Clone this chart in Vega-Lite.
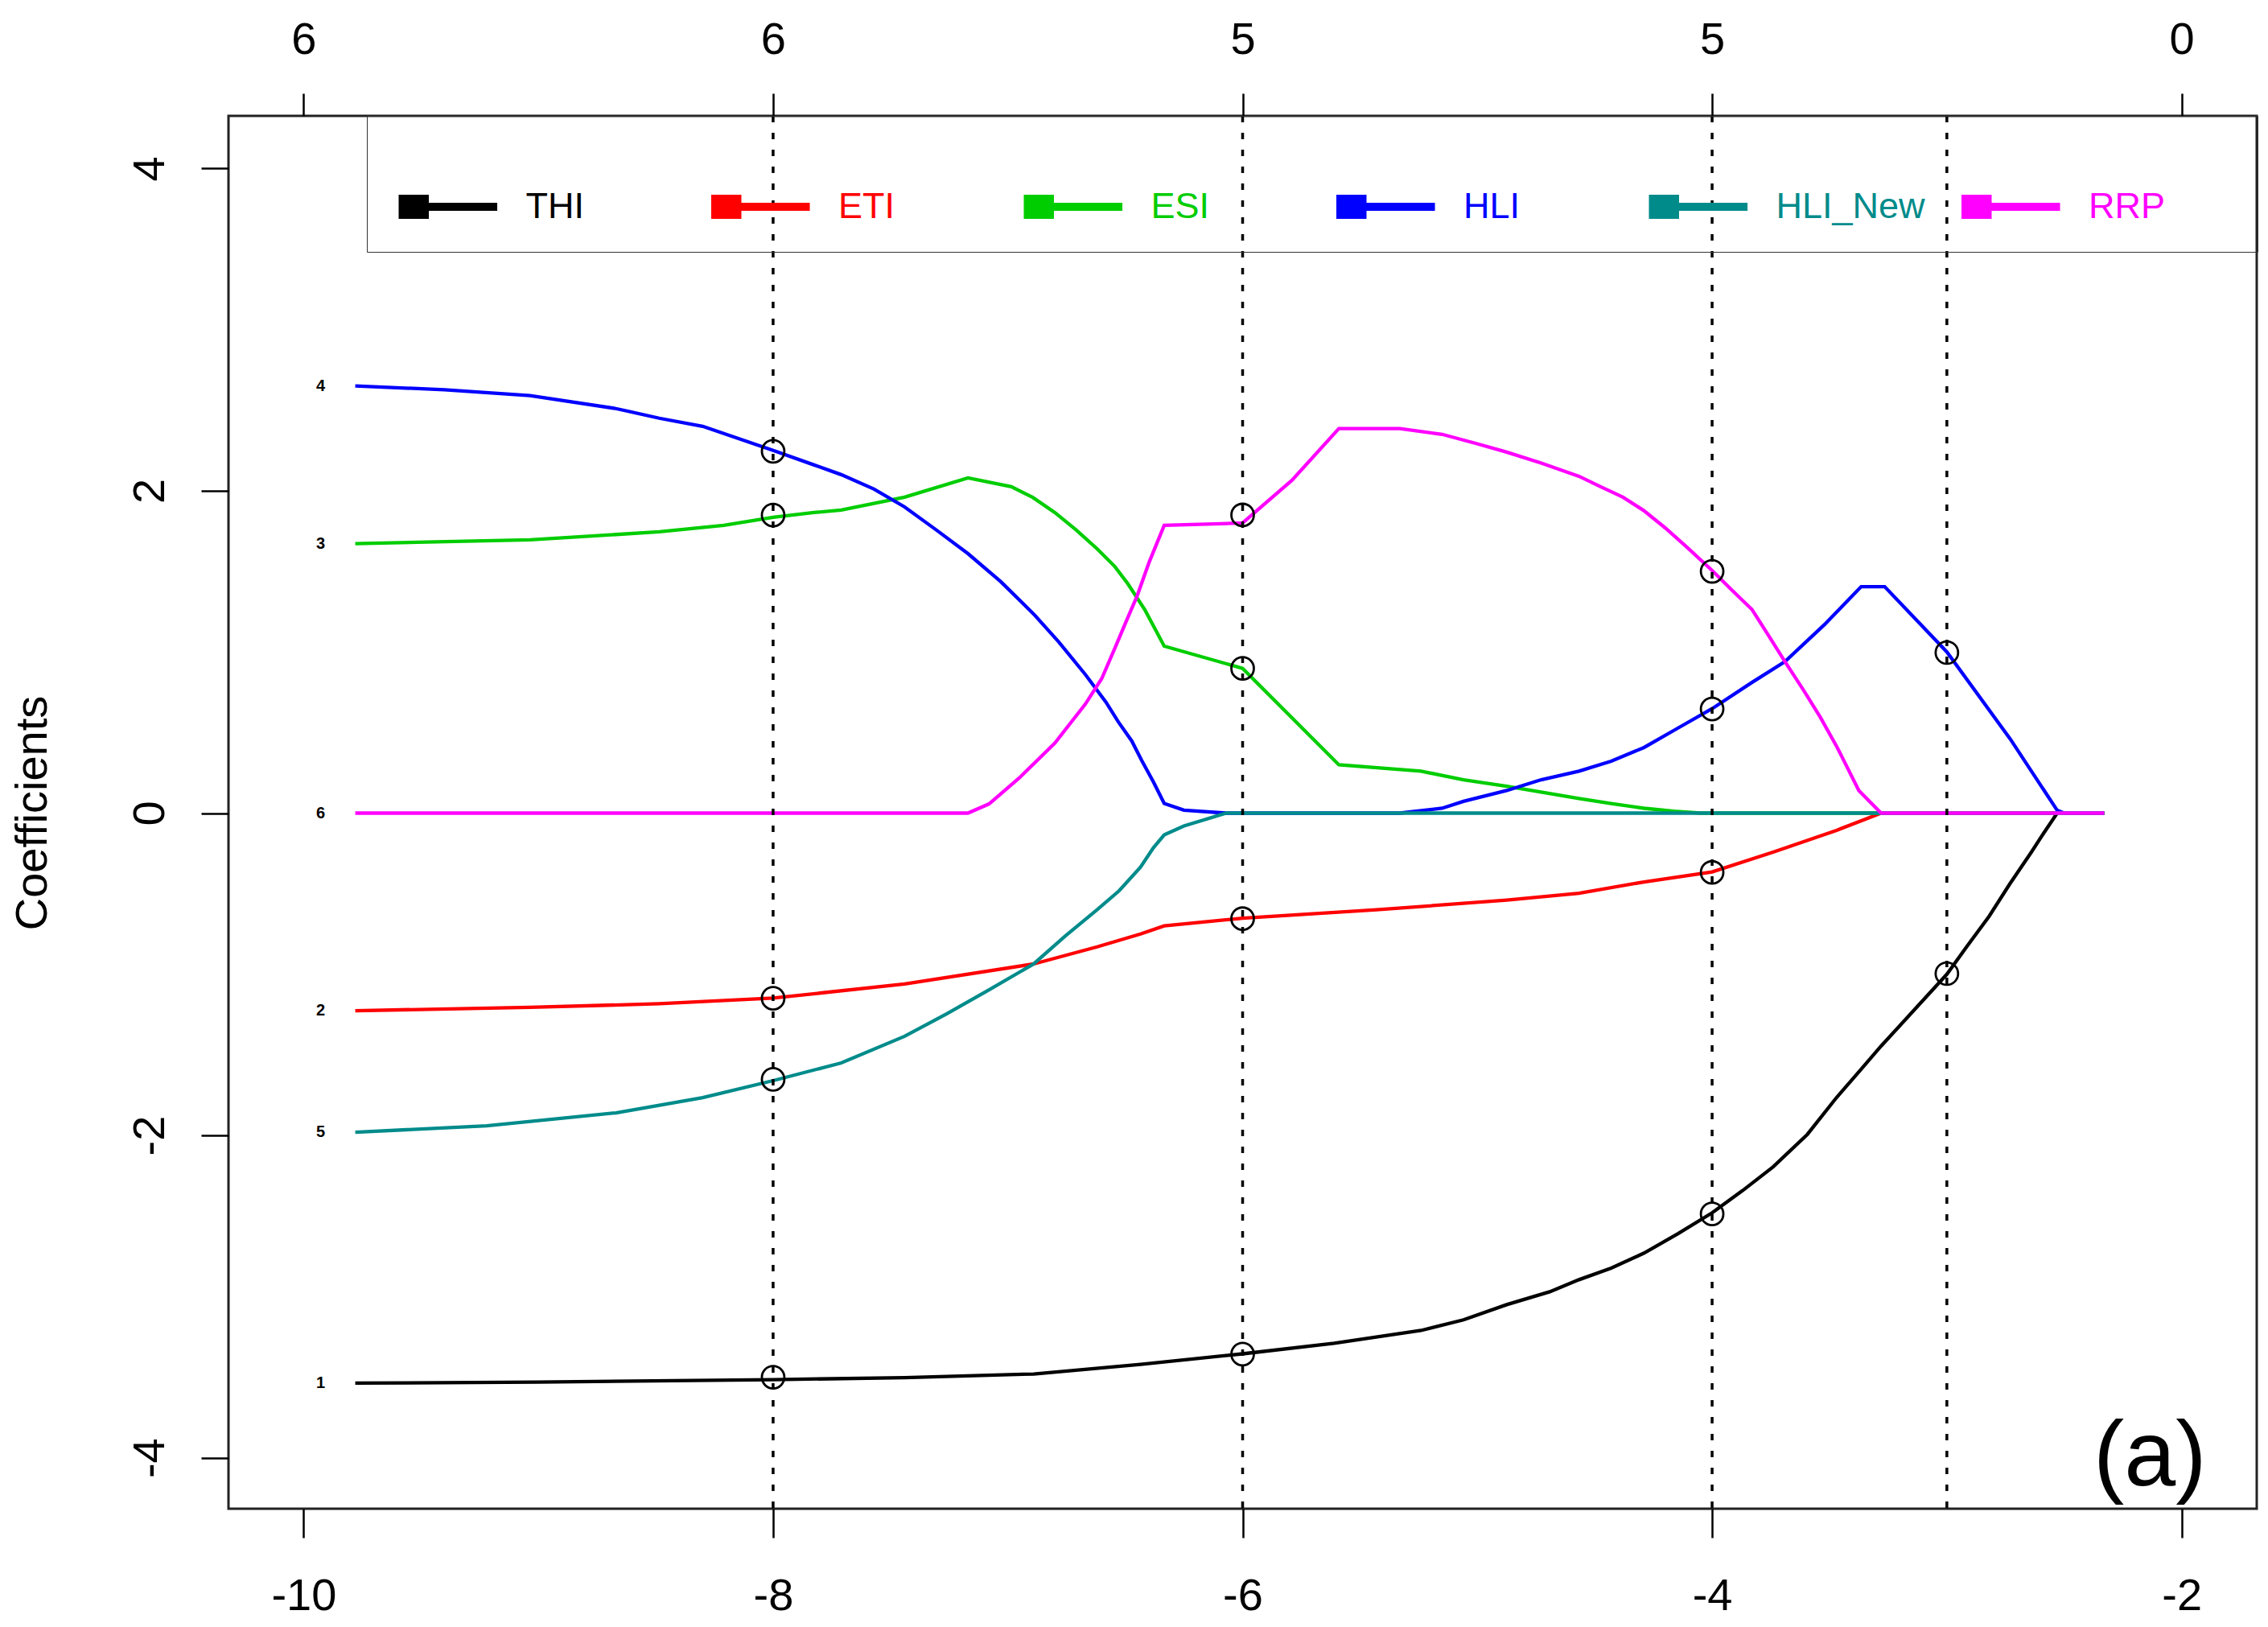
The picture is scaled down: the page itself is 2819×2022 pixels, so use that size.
{
  "$schema": "https://vega.github.io/schema/vega-lite/v6.json",
  "width": 2521,
  "height": 1731,
  "autosize": {"type": "none"},
  "padding": {"left": 284, "top": 144, "right": 14, "bottom": 147},
  "background": "white",
  "config": {
    "font": "Liberation Sans",
    "view": {"stroke": "#222222", "strokeWidth": 3},
    "axis": {"grid": false, "domain": false, "tickColor": "black", "tickWidth": 2.5, "labelColor": "black", "labelFont": "Liberation Sans", "labelFontSize": 56, "titleFont": "Liberation Sans", "titleFontSize": 56, "titleFontWeight": "normal", "titleColor": "black"}
  },
  "datasets": {
    "paths": [
      {"series": "THI", "x": -9.78, "y": -3.537},
      {"series": "THI", "x": -9.0, "y": -3.53},
      {"series": "THI", "x": -8.0, "y": -3.515},
      {"series": "THI", "x": -7.44, "y": -3.503},
      {"series": "THI", "x": -6.89, "y": -3.48},
      {"series": "THI", "x": -6.435, "y": -3.42},
      {"series": "THI", "x": -6.0, "y": -3.355},
      {"series": "THI", "x": -5.61, "y": -3.29},
      {"series": "THI", "x": -5.24, "y": -3.21},
      {"series": "THI", "x": -5.059, "y": -3.144},
      {"series": "THI", "x": -4.875, "y": -3.05},
      {"series": "THI", "x": -4.692, "y": -2.97},
      {"series": "THI", "x": -4.567, "y": -2.895},
      {"series": "THI", "x": -4.43, "y": -2.823},
      {"series": "THI", "x": -4.29, "y": -2.73},
      {"series": "THI", "x": -4.145, "y": -2.609},
      {"series": "THI", "x": -4.0, "y": -2.48},
      {"series": "THI", "x": -3.87, "y": -2.342},
      {"series": "THI", "x": -3.74, "y": -2.195},
      {"series": "THI", "x": -3.594, "y": -1.993},
      {"series": "THI", "x": -3.47, "y": -1.765},
      {"series": "THI", "x": -3.375, "y": -1.606},
      {"series": "THI", "x": -3.28, "y": -1.445},
      {"series": "THI", "x": -3.145, "y": -1.231},
      {"series": "THI", "x": -3.0, "y": -1.0},
      {"series": "THI", "x": -2.916, "y": -0.83},
      {"series": "THI", "x": -2.82, "y": -0.64},
      {"series": "THI", "x": -2.733, "y": -0.442},
      {"series": "THI", "x": -2.64, "y": -0.242},
      {"series": "THI", "x": -2.586, "y": -0.121},
      {"series": "THI", "x": -2.53, "y": 0},
      {"series": "THI", "x": -2.33, "y": 0},
      {"series": "ETI", "x": -9.78, "y": -1.226},
      {"series": "ETI", "x": -9.036, "y": -1.205},
      {"series": "ETI", "x": -8.485, "y": -1.183},
      {"series": "ETI", "x": -8.0, "y": -1.148},
      {"series": "ETI", "x": -7.44, "y": -1.06},
      {"series": "ETI", "x": -6.89, "y": -0.936},
      {"series": "ETI", "x": -6.62, "y": -0.83},
      {"series": "ETI", "x": -6.435, "y": -0.75},
      {"series": "ETI", "x": -6.334, "y": -0.7},
      {"series": "ETI", "x": -6.0, "y": -0.652},
      {"series": "ETI", "x": -5.43, "y": -0.6},
      {"series": "ETI", "x": -4.875, "y": -0.54},
      {"series": "ETI", "x": -4.567, "y": -0.497},
      {"series": "ETI", "x": -4.29, "y": -0.427},
      {"series": "ETI", "x": -4.0, "y": -0.365},
      {"series": "ETI", "x": -3.74, "y": -0.242},
      {"series": "ETI", "x": -3.47, "y": -0.107},
      {"series": "ETI", "x": -3.28, "y": 0},
      {"series": "ETI", "x": -2.33, "y": 0},
      {"series": "ESI", "x": -9.78, "y": 1.672},
      {"series": "ESI", "x": -9.036, "y": 1.696},
      {"series": "ESI", "x": -8.485, "y": 1.745},
      {"series": "ESI", "x": -8.21, "y": 1.785},
      {"series": "ESI", "x": -8.0, "y": 1.835},
      {"series": "ESI", "x": -7.825, "y": 1.865},
      {"series": "ESI", "x": -7.71, "y": 1.88},
      {"series": "ESI", "x": -7.44, "y": 1.96},
      {"series": "ESI", "x": -7.17, "y": 2.08},
      {"series": "ESI", "x": -6.985, "y": 2.025},
      {"series": "ESI", "x": -6.894, "y": 1.959},
      {"series": "ESI", "x": -6.8, "y": 1.865},
      {"series": "ESI", "x": -6.71, "y": 1.758},
      {"series": "ESI", "x": -6.62, "y": 1.64},
      {"series": "ESI", "x": -6.545, "y": 1.531},
      {"series": "ESI", "x": -6.49, "y": 1.425},
      {"series": "ESI", "x": -6.417, "y": 1.263},
      {"series": "ESI", "x": -6.334, "y": 1.036},
      {"series": "ESI", "x": -6.0, "y": 0.898},
      {"series": "ESI", "x": -5.59, "y": 0.3},
      {"series": "ESI", "x": -5.24, "y": 0.26},
      {"series": "ESI", "x": -5.059, "y": 0.207},
      {"series": "ESI", "x": -4.875, "y": 0.167},
      {"series": "ESI", "x": -4.567, "y": 0.09},
      {"series": "ESI", "x": -4.43, "y": 0.059},
      {"series": "ESI", "x": -4.29, "y": 0.03},
      {"series": "ESI", "x": -4.163, "y": 0.012},
      {"series": "ESI", "x": -4.05, "y": 0},
      {"series": "ESI", "x": -2.33, "y": 0},
      {"series": "HLI", "x": -9.78, "y": 2.65},
      {"series": "HLI", "x": -9.4, "y": 2.627},
      {"series": "HLI", "x": -9.036, "y": 2.59},
      {"series": "HLI", "x": -8.67, "y": 2.51},
      {"series": "HLI", "x": -8.485, "y": 2.45},
      {"series": "HLI", "x": -8.3, "y": 2.4},
      {"series": "HLI", "x": -8.0, "y": 2.25},
      {"series": "HLI", "x": -7.825, "y": 2.16},
      {"series": "HLI", "x": -7.71, "y": 2.1},
      {"series": "HLI", "x": -7.57, "y": 2.01},
      {"series": "HLI", "x": -7.44, "y": 1.9},
      {"series": "HLI", "x": -7.306, "y": 1.758},
      {"series": "HLI", "x": -7.17, "y": 1.61},
      {"series": "HLI", "x": -7.031, "y": 1.437},
      {"series": "HLI", "x": -6.89, "y": 1.235},
      {"series": "HLI", "x": -6.783, "y": 1.062},
      {"series": "HLI", "x": -6.67, "y": 0.86},
      {"series": "HLI", "x": -6.582, "y": 0.688},
      {"series": "HLI", "x": -6.53, "y": 0.567},
      {"series": "HLI", "x": -6.472, "y": 0.447},
      {"series": "HLI", "x": -6.43, "y": 0.327},
      {"series": "HLI", "x": -6.38, "y": 0.193},
      {"series": "HLI", "x": -6.334, "y": 0.06},
      {"series": "HLI", "x": -6.25, "y": 0.018},
      {"series": "HLI", "x": -6.07, "y": 0},
      {"series": "HLI", "x": -5.33, "y": 0},
      {"series": "HLI", "x": -5.15, "y": 0.03},
      {"series": "HLI", "x": -5.059, "y": 0.073},
      {"series": "HLI", "x": -4.875, "y": 0.14},
      {"series": "HLI", "x": -4.728, "y": 0.207},
      {"series": "HLI", "x": -4.567, "y": 0.26},
      {"series": "HLI", "x": -4.43, "y": 0.322},
      {"series": "HLI", "x": -4.29, "y": 0.407},
      {"series": "HLI", "x": -4.145, "y": 0.528},
      {"series": "HLI", "x": -4.0, "y": 0.648},
      {"series": "HLI", "x": -3.833, "y": 0.808},
      {"series": "HLI", "x": -3.69, "y": 0.94},
      {"series": "HLI", "x": -3.521, "y": 1.17},
      {"series": "HLI", "x": -3.365, "y": 1.405},
      {"series": "HLI", "x": -3.265, "y": 1.405},
      {"series": "HLI", "x": -3.0, "y": 1.0},
      {"series": "HLI", "x": -2.73, "y": 0.46},
      {"series": "HLI", "x": -2.53, "y": 0.017},
      {"series": "HLI", "x": -2.5, "y": 0},
      {"series": "HLI", "x": -2.33, "y": 0},
      {"series": "HLI_New", "x": -9.78, "y": -1.98},
      {"series": "HLI_New", "x": -9.22, "y": -1.94},
      {"series": "HLI_New", "x": -8.67, "y": -1.86},
      {"series": "HLI_New", "x": -8.3, "y": -1.765},
      {"series": "HLI_New", "x": -8.0, "y": -1.66},
      {"series": "HLI_New", "x": -7.71, "y": -1.55},
      {"series": "HLI_New", "x": -7.44, "y": -1.385},
      {"series": "HLI_New", "x": -7.26, "y": -1.245},
      {"series": "HLI_New", "x": -7.08, "y": -1.096},
      {"series": "HLI_New", "x": -6.89, "y": -0.936},
      {"series": "HLI_New", "x": -6.756, "y": -0.763},
      {"series": "HLI_New", "x": -6.62, "y": -0.6},
      {"series": "HLI_New", "x": -6.526, "y": -0.482},
      {"series": "HLI_New", "x": -6.435, "y": -0.335},
      {"series": "HLI_New", "x": -6.38, "y": -0.215},
      {"series": "HLI_New", "x": -6.334, "y": -0.135},
      {"series": "HLI_New", "x": -6.25, "y": -0.08},
      {"series": "HLI_New", "x": -6.07, "y": 0},
      {"series": "HLI_New", "x": -2.33, "y": 0},
      {"series": "RRP", "x": -9.78, "y": 0},
      {"series": "RRP", "x": -7.17, "y": 0},
      {"series": "RRP", "x": -7.08, "y": 0.057},
      {"series": "RRP", "x": -6.95, "y": 0.22},
      {"series": "RRP", "x": -6.8, "y": 0.434},
      {"series": "RRP", "x": -6.67, "y": 0.676},
      {"series": "RRP", "x": -6.6, "y": 0.835},
      {"series": "RRP", "x": -6.545, "y": 1.02},
      {"series": "RRP", "x": -6.49, "y": 1.21},
      {"series": "RRP", "x": -6.45, "y": 1.345},
      {"series": "RRP", "x": -6.398, "y": 1.557},
      {"series": "RRP", "x": -6.334, "y": 1.785},
      {"series": "RRP", "x": -6.0, "y": 1.8},
      {"series": "RRP", "x": -5.79, "y": 2.065},
      {"series": "RRP", "x": -5.59, "y": 2.386},
      {"series": "RRP", "x": -5.33, "y": 2.386},
      {"series": "RRP", "x": -5.15, "y": 2.35},
      {"series": "RRP", "x": -5.004, "y": 2.293},
      {"series": "RRP", "x": -4.875, "y": 2.24},
      {"series": "RRP", "x": -4.728, "y": 2.172},
      {"series": "RRP", "x": -4.567, "y": 2.09},
      {"series": "RRP", "x": -4.475, "y": 2.025},
      {"series": "RRP", "x": -4.38, "y": 1.96},
      {"series": "RRP", "x": -4.292, "y": 1.878},
      {"series": "RRP", "x": -4.2, "y": 1.77},
      {"series": "RRP", "x": -4.108, "y": 1.651},
      {"series": "RRP", "x": -4.0, "y": 1.505},
      {"series": "RRP", "x": -3.925, "y": 1.397},
      {"series": "RRP", "x": -3.83, "y": 1.263},
      {"series": "RRP", "x": -3.76, "y": 1.103},
      {"series": "RRP", "x": -3.69, "y": 0.94},
      {"series": "RRP", "x": -3.613, "y": 0.768},
      {"series": "RRP", "x": -3.54, "y": 0.597},
      {"series": "RRP", "x": -3.467, "y": 0.407},
      {"series": "RRP", "x": -3.375, "y": 0.14},
      {"series": "RRP", "x": -3.28, "y": 0},
      {"series": "RRP", "x": -2.33, "y": 0}
    ],
    "cuts": [{"x": -8}, {"x": -6}, {"x": -4}, {"x": -3}],
    "marks": [
      {"x": -8, "y": 2.245}, {"x": -8, "y": 1.849}, {"x": -8, "y": -1.149}, {"x": -8, "y": -1.652}, {"x": -8, "y": -3.5},
      {"x": -6, "y": 1.85}, {"x": -6, "y": 0.898}, {"x": -6, "y": -0.655}, {"x": -6, "y": -3.357},
      {"x": -4, "y": 1.5}, {"x": -4, "y": 0.646}, {"x": -4, "y": -0.368}, {"x": -4, "y": -2.487},
      {"x": -3, "y": 0.996}, {"x": -3, "y": -0.996}
    ],
    "starts": [
      {"num": "1", "x": -9.78, "y": -3.537},
      {"num": "2", "x": -9.78, "y": -1.226},
      {"num": "3", "x": -9.78, "y": 1.672},
      {"num": "4", "x": -9.78, "y": 2.65},
      {"num": "5", "x": -9.78, "y": -1.98},
      {"num": "6", "x": -9.78, "y": 0}
    ],
    "panel": [{"label": "(a)", "x": -1.894, "y": -4.17}]
  },
  "layer": [
    {
      "data": {"name": "paths"},
      "mark": {"type": "line", "strokeWidth": 4.3, "strokeJoin": "miter"},
      "encoding": {
        "x": {"field": "x", "type": "quantitative", "scale": {"domain": [-10.32, -1.68], "nice": false, "zero": false},
          "axis": {"orient": "bottom", "values": [-10, -8, -6, -4, -2], "title": null, "tickSize": 36, "labelPadding": 45, "labelExpr": "'' + datum.value"}},
        "y": {"field": "y", "type": "quantitative", "scale": {"domain": [-4.316, 4.326], "nice": false, "zero": false},
          "axis": {"values": [-4, -2, 0, 2, 4], "title": "Coefficients", "tickSize": 34, "labelPadding": 35, "labelAngle": -90, "labelAlign": "center", "labelBaseline": "bottom", "labelExpr": "'' + datum.value", "titleX": -244, "titleY": 866, "titleAngle": -90, "titleBaseline": "middle", "titleAlign": "center"}},
        "color": {"field": "series", "type": "nominal",
          "scale": {"domain": ["THI", "ETI", "ESI", "HLI", "HLI_New", "RRP"], "range": ["#000000", "#FF0000", "#00CD00", "#0000FF", "#008B8B", "#FF00FF"]},
          "legend": {
            "orient": "none", "legendX": 172, "legendY": 0, "direction": "horizontal", "columns": 6, "gridAlign": "all",
            "columnPadding": 38.5, "padding": 33, "strokeColor": "#333333", "title": null,
            "symbolType": "M-1,-1H1.5V1H-1Z M1.5,-0.333H7.17V0.333H1.5Z M21.3,0L21.3,0",
            "symbolSize": 900, "symbolStrokeWidth": 0, "symbolOffset": -1,
            "labelFontSize": 45, "labelOffset": 120.5, "labelFont": "Liberation Sans", "labelLimit": 0,
            "encode": {
              "symbols": {"update": {"fill": {"scale": "color", "field": "value"}, "opacity": {"value": 1}, "y": {"value": 80}}},
              "labels": {"update": {"fill": {"scale": "color", "field": "value"}, "y": {"value": 80}}}
            }
          }
        }
      }
    },
    {
      "data": {"name": "cuts"},
      "mark": {"type": "rule", "strokeDash": [8, 13], "strokeWidth": 3.5, "color": "black"},
      "encoding": {
        "x": {"field": "x", "type": "quantitative", "scale": {"domain": [-10.32, -1.68], "nice": false, "zero": false}, "axis": null}
      }
    },
    {
      "data": {"name": "marks"},
      "mark": {"type": "point", "shape": "circle", "filled": false, "size": 780, "strokeWidth": 2.8, "color": "black", "opacity": 1},
      "encoding": {
        "x": {"field": "x", "type": "quantitative", "scale": {"domain": [-10.32, -1.68], "nice": false, "zero": false},
          "axis": {"orient": "top", "values": [-10, -8, -6, -4, -2], "title": null, "tickSize": 28, "labelPadding": 38,
            "labelExpr": "datum.value == -10 ? '6' : datum.value == -8 ? '6' : datum.value == -6 ? '5' : datum.value == -4 ? '5' : '0'"}},
        "y": {"field": "y", "type": "quantitative", "scale": {"domain": [-4.316, 4.326], "nice": false, "zero": false}}
      }
    },
    {
      "data": {"name": "starts"},
      "mark": {"type": "text", "dx": -43, "align": "center", "baseline": "middle", "fontSize": 20, "fontWeight": "bold", "color": "black"},
      "encoding": {
        "x": {"field": "x", "type": "quantitative", "scale": {"domain": [-10.32, -1.68], "nice": false, "zero": false}, "axis": null},
        "y": {"field": "y", "type": "quantitative", "scale": {"domain": [-4.316, 4.326], "nice": false, "zero": false}},
        "text": {"field": "num"}
      }
    },
    {
      "data": {"name": "panel"},
      "mark": {"type": "text", "align": "right", "baseline": "alphabetic", "fontSize": 115, "color": "black"},
      "encoding": {
        "x": {"field": "x", "type": "quantitative", "scale": {"domain": [-10.32, -1.68], "nice": false, "zero": false}, "axis": null},
        "y": {"field": "y", "type": "quantitative", "scale": {"domain": [-4.316, 4.326], "nice": false, "zero": false}},
        "text": {"field": "label"}
      }
    }
  ],
  "resolve": {"axis": {"x": "independent"}}
}
